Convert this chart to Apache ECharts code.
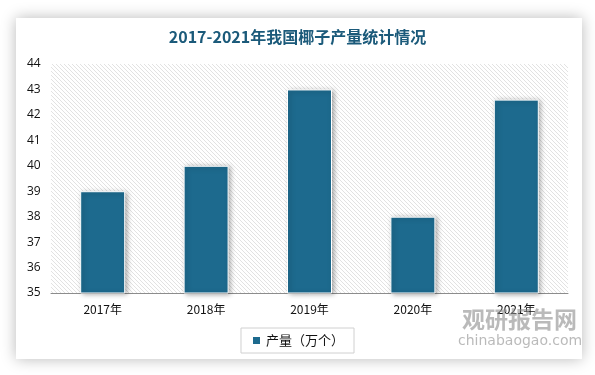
<!DOCTYPE html>
<html><head><meta charset="utf-8">
<script src="https://cdn.jsdelivr.net/npm/echarts@6/dist/echarts.min.js"></script>
<style>html,body{margin:0;padding:0;background:#fff}#c{width:595px;height:375px}</style>
</head><body><div id="c"></div>
<script>
const categories = ['2017年','2018年','2019年','2020年','2021年'];
const production = [39, 40, 43, 38, 42.6];
const seriesName = '产量（万个）';
const titleText = '2017-2021年我国椰子产量统计情况';

const pc = document.createElement('canvas');
pc.width = 4; pc.height = 4;
const g = pc.getContext('2d');
g.fillStyle = '#ffffff'; g.fillRect(0,0,4,4);
g.strokeStyle = '#e2e2e2'; g.lineWidth = 1;
g.beginPath(); g.moveTo(0,0); g.lineTo(4,4); g.moveTo(-1,3); g.lineTo(1,5); g.moveTo(3,-1); g.lineTo(5,1); g.stroke();

const chart = echarts.init(document.getElementById('c'));
chart.setOption({
  backgroundColor: '#ffffff',
  animation: false,
  graphic: [
    { type:'rect', z:-10, shape:{x:16,y:18,width:566,height:341},
      style:{fill:'#fff', shadowBlur:14, shadowColor:'rgba(0,0,0,0.28)', shadowOffsetX:0, shadowOffsetY:0} },
    { type:'text', left:462, top:308, z:50, style:{text:'观研报告网', font:'bold 23px "Noto Sans CJK SC"', fill:'rgba(140,140,140,0.6)'} },
    { type:'text', left:458, top:334, z:50, style:{text:'chinabaogao.com', font:'14px "DejaVu Sans"', fill:'rgba(140,140,140,0.6)'} }
  ],
  title: { text: titleText, left: 'center', top: 24,
    textStyle: { fontSize: 16, fontWeight: 'bold', color: '#1b5a7a', fontFamily: '"Noto Sans CJK SC", sans-serif' } },
  legend: { data:[seriesName], bottom: 22, left:'center', itemWidth:9, itemHeight:9, icon:'rect',
    borderColor:'#d0d0d0', borderWidth:1, padding:[6,10], itemGap:6,
    textStyle:{fontSize:13, color:'#111', fontFamily:'"Noto Sans CJK SC", sans-serif'} },
  grid: { left: 51, right: 27, top: 64, bottom: 82, show:true, borderWidth:0,
    backgroundColor: { image: pc, repeat: 'repeat' } },
  xAxis: { type:'category', data: categories,
    axisLine:{lineStyle:{color:'#8c8c8c', width:1}}, axisTick:{show:false},
    axisLabel:{fontSize:12, color:'#111', margin:10, fontFamily:'"Noto Sans CJK SC", sans-serif'} },
  yAxis: { type:'value', min:35, max:44, interval:1,
    axisLine:{show:false}, axisTick:{show:false}, splitLine:{show:false},
    axisLabel:{fontSize:12, color:'#111', margin:24, align:'left', fontFamily:'"Open Sans", sans-serif'} },
  series: [{ name: seriesName, type:'bar', data: production, barWidth: 45,
    itemStyle:{ color:'#1d6a8e', borderColor:'#ffffff', borderWidth:1,
      shadowBlur:5, shadowColor:'rgba(0,0,0,0.35)', shadowOffsetX:2, shadowOffsetY:1 } }]
});
</script></body></html>
